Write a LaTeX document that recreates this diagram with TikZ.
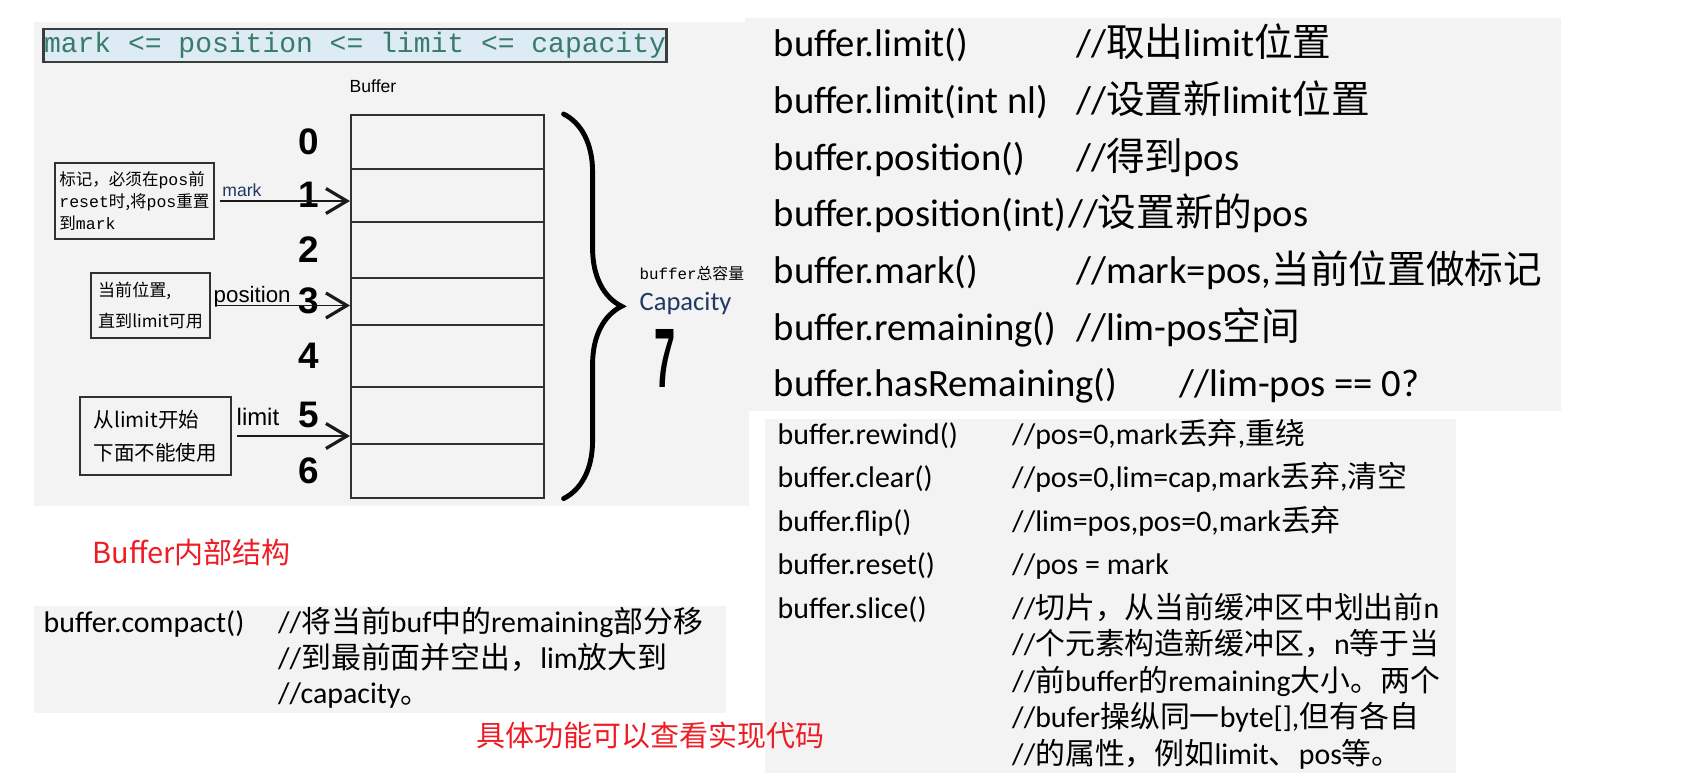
\documentclass[tikz,border=0pt]{standalone}
\usepackage{fontspec}
\usepackage{graphicx}
\setmainfont{Carlito}
\setmonofont{Liberation Mono}
\newfontfamily\zhfont{Noto Sans CJK SC}
\newfontfamily\arialfont{Liberation Sans}
\usetikzlibrary{arrows.meta,positioning,decorations.pathreplacing}
\definecolor{cPanel}{HTML}{F3F3F3}
\definecolor{cInk}{HTML}{1A1A1A}
\definecolor{cNavy}{HTML}{1F3864}
\definecolor{cRed}{HTML}{EE1C25}
\definecolor{cRuleBg}{HTML}{DDEBF4}
\definecolor{cRuleTx}{HTML}{3A7A68}
\newcommand{\zh}[1]{{\zhfont#1}}
\tikzset{
  panel/.style={fill=cPanel, draw=none},
  rulebox/.style={draw=cInk!85, line width=0.6pt, fill=cRuleBg, text=cRuleTx,
                  font=\ttfamily\fontsize{7.97}{9}\selectfont,
                  minimum width=62.3mm, minimum height=3.3mm, inner sep=0pt},
  cell/.style={draw=cInk!90, line width=0.45pt, minimum width=19.3mm,
               inner sep=0pt, anchor=north west},
  digit/.style={font=\arialfont\bfseries\fontsize{10.5}{12}\selectfont, inner sep=0pt},
  note/.style={draw=cInk!90, line width=0.45pt, align=left, inner sep=0pt},
  ptr/.style={draw=cInk, line width=0.55pt, shorten <=0.5mm,
              -{Straight Barb[length=2.1mm,width=2.5mm,line width=0.9pt]}},
  lbl/.style={anchor=base west, inner sep=0pt},
  api/.style={anchor=base west, inner sep=0pt, text=black, font=\fontsize{11}{13}\selectfont},
  apis/.style={api, font=\fontsize{8.5}{10}\selectfont},
  redtxt/.style={text=cRed, font=\zhfont\fontsize{8.25}{10}\selectfont, inner sep=0pt},
  capbrace/.style={decorate, decoration={brace, amplitude=5.8mm}, line width=1.4pt,
                   line cap=round},
}

\begin{document}
\begin{tikzpicture}[x=0.1mm,y=-0.1mm]
\useasboundingbox (0,0) rectangle (1691,778);

\def\mx{773}
\def\cx{1075.7}
\def\sx{777}
\def\sc{1011.5}

% ---------------------------------------------------------------- panels
\fill[panel] (34,22) rectangle (749,506);
\fill[panel] (745,18) rectangle (1561,411);
\fill[panel] (765,419) rectangle (1456,773);
\fill[panel] (34,606) rectangle (726,713);

% ---------------------------------------------------------------- the buffer
\node[rulebox] (rule) at (355,45.6) {mark <= position <= limit <= capacity};
\node[lbl, font=\arialfont\fontsize{5}{6}\selectfont] (buf) at (349,92) {Buffer};

\foreach \i/\ya/\yb in {0/114/168,1/168/221,2/221/277,3/277/324,4/324/386,5/386/443,6/443/497}{
  \node[cell, minimum height={(\yb-\ya)*0.1mm}] (c\i) at (350,\ya) {};
  \node[digit, left=3mm of c\i] (d\i) {\i};
}

\coordinate (brT) at ([xshift=1.9mm]c0.north east);
\coordinate (brB) at ([xshift=1.9mm]c6.south east);
\draw[capbrace] (brT) -- (brB);

\node[lbl, font=\zhfont\fontsize{4.5}{5}\selectfont] (capzh) at (639,279) {\texttt{buffer}总容量};
\node[lbl, text=cNavy, font=\fontsize{7.55}{9}\selectfont] (cap) at (639,310) {Capacity};
\node[digit] (cap7) at (665,358) {\scalebox{0.45}[1]{\fontsize{24}{24}\selectfont 7}};

% ---------------------------------------------------------------- pointers
\node[note, minimum width=15.9mm, minimum height=7.6mm, font=\zhfont\fontsize{4.7}{6.26}\selectfont]
     (b1) at (134.4,201) {标记，必须在\texttt{pos}前\\\texttt{reset}时,将\texttt{pos}重置\\到\texttt{mark}};
\node[note, minimum width=11.9mm, minimum height=6.5mm, font=\zhfont\fontsize{4.85}{9}\selectfont]
     (b2) at (150.5,305.5) {当前位置,\\直到limit可用};
\node[note, minimum width=15.07mm, minimum height=7.8mm, font=\zhfont\fontsize{5.85}{9.5}\selectfont]
     (b3) at (155.4,436) {从limit开始\\下面不能使用};

\draw[ptr] (b1.east) -- (b1.east -| c1.west);
\draw[ptr] (b2.east) -- (b2.east -| c3.west);
\draw[ptr] (b3.east) -- (b3.east -| c5.west);

\node[lbl, text=cNavy, font=\arialfont\fontsize{5}{6}\selectfont] (lmark) at (221.7,196) {mark};
\node[lbl, font=\arialfont\fontsize{6.35}{7}\selectfont] (lpos) at (213,302.7) {position};
\node[lbl, font=\arialfont\fontsize{6.8}{8}\selectfont] (llim) at (236,425) {limit};

\node[redtxt, anchor=base west] (title) at (91.7,563) {Buffer内部结构};

% ---------------------------------------------------------------- api, upper list
\node[api] (m1) at (\mx,56.7) {buffer.limit()};
\node[api] (n1) at (\cx,56.7) {//\zh{取出}limit\zh{位置}};
\node[api] (m2) at (\mx,113.4) {buffer.limit(int nl)};
\node[api] (n2) at (\cx,113.4) {//\zh{设置新}limit\zh{位置}};
\node[api] (m3) at (\mx,170.1) {buffer.position()};
\node[api] (n3) at (\cx,170.1) {//\zh{得到}pos};
\node[api] (m4) at (\mx,226.8) {buffer.position(int)};
\node[api] (n4) at (m4.base east) {//\zh{设置新的}pos};
\node[api] (m5) at (\mx,283.5) {buffer.mark()};
\node[api] (n5) at (\cx,283.5) {//mark=pos,\zh{当前位置做标记}};
\node[api] (m6) at (\mx,340.2) {buffer.remaining()};
\node[api] (n6) at (\cx,340.2) {//lim-pos\zh{空间}};
\node[api] (m7) at (\mx,396.9) {buffer.hasRemaining()};
\node[api] (n7) at (1179,396.9) {//lim-pos == 0?};

% ---------------------------------------------------------------- api, lower list
\node[apis] (s1) at (\sx,444) {buffer.rewind()};
\node[apis] (t1) at (\sc,444) {//pos=0,mark\zh{丢弃},\zh{重绕}};
\node[apis] (s2) at (\sx,487.5) {buffer.clear()};
\node[apis] (t2) at (\sc,487.5) {//pos=0,lim=cap,mark\zh{丢弃},\zh{清空}};
\node[apis] (s3) at (\sx,531) {buffer.flip()};
\node[apis] (t3) at (\sc,531) {//lim=pos,pos=0,mark\zh{丢弃}};
\node[apis] (s4) at (\sx,574.5) {buffer.reset()};
\node[apis] (t4) at (\sc,574.5) {//pos = mark};
\node[apis] (s5) at (\sx,618) {buffer.slice()};
\foreach \l [count=\k from 0] in {{//\zh{切片，从当前缓冲区中划出前}n},
    {//\zh{个元素构造新缓冲区，}n\zh{等于当}},
    {//\zh{前}buffer\zh{的}remaining\zh{大小。两个}},
    {//bufer\zh{操纵同一}byte[],\zh{但有各自}},
    {//\zh{的属性，例如}limit\zh{、}pos\zh{等。}}}
  \node[apis] (sl\k) at (\sc,{618+36.5*\k}) {\l};

% ---------------------------------------------------------------- compact
\node[apis] (cm) at (43,632.7) {buffer.compact()};
\foreach \l [count=\k from 0] in {{//\zh{将当前}buf\zh{中的}remaining\zh{部分移}},
    {//\zh{到最前面并空出，}lim\zh{放大到}},
    {//capacity\zh{。}}}
  \node[apis] (cl\k) at (277.5,{632.7+35.3*\k}) {\l};

\node[redtxt] (seecode) at (650.5,735.5) {具体功能可以查看实现代码};

\end{tikzpicture}
\end{document}
